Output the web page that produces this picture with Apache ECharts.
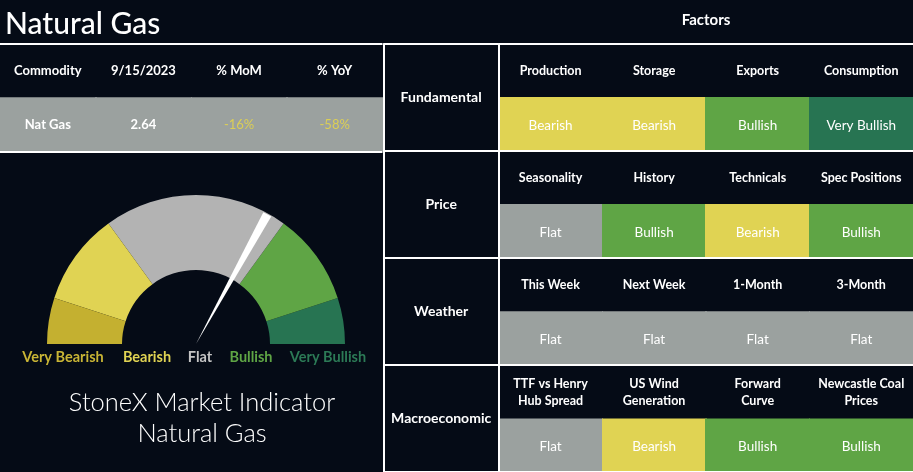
<!DOCTYPE html>
<html><head><meta charset="utf-8">
<script src="https://cdn.jsdelivr.net/npm/echarts@6/dist/echarts.min.js"></script>
<style>html,body{margin:0;padding:0;background:#050b16}#c{width:913px;height:472px}</style>
</head><body><div id="c"></div>
<script>
// ---- data ----
const commodityHeaders = ['Commodity', '9/15/2023', '% MoM', '% YoY'];
const commodityRow = ['Nat Gas', '2.64', '-16%', '-58%'];
const commodityTone = ['neutral', 'neutral', 'Bearish', 'Bearish'];
const groups = ['Fundamental', 'Price', 'Weather', 'Macroeconomic'];
const factorColumns = ['c1', 'c2', 'c3', 'c4'];
const factorNames = [
  ['Production', 'Storage', 'Exports', 'Consumption'],
  ['Seasonality', 'History', 'Technicals', 'Spec Positions'],
  ['This Week', 'Next Week', '1-Month', '3-Month'],
  ['TTF vs Henry\nHub Spread', 'US Wind\nGeneration', 'Forward\nCurve', 'Newcastle Coal\nPrices']
];
const factorRatings = [
  ['Bearish', 'Bearish', 'Bullish', 'Very Bullish'],
  ['Flat', 'Bullish', 'Bearish', 'Bullish'],
  ['Flat', 'Flat', 'Flat', 'Flat'],
  ['Flat', 'Bearish', 'Bullish', 'Bullish']
];
const ratingLevels = ['Very Bearish', 'Bearish', 'Flat', 'Bullish', 'Very Bullish'];
const gaugeBandEnds = [0.1, 0.3, 0.7, 0.9, 1.0];
const indicatorValue = 66;

// ---- styles ----
const BG = '#050b16';
const cellColor = {'Very Bearish': '#c4b030', 'Bearish': '#e0d353', 'Flat': '#9ba19f', 'Bullish': '#5fa545', 'Very Bullish': '#277452'};
const gaugeColor = {'Very Bearish': '#c4b030', 'Bearish': '#e0d353', 'Flat': '#b3b3b3', 'Bullish': '#5fa545', 'Very Bullish': '#277452'};
const labelColor = {'Very Bearish': '#c9b535', 'Bearish': '#e0d353', 'Flat': '#c4c4c4', 'Bullish': '#5fa545', 'Very Bullish': '#2c7a56'};
const FONT = 'Lato, "Noto Sans", sans-serif';
const LINE = {show: true, interval: 0, lineStyle: {color: '#ffffff', width: 2}};

function catAxis(gridIndex, data, inverse, split) {
  return {type: 'category', gridIndex, data, inverse: !!inverse, z: 5,
    axisLine: {show: false}, axisTick: {show: false}, axisLabel: {show: false},
    splitLine: split ? LINE : {show: false}};
}

function renderCommodity(params, api) {
  const j = api.value(0);
  const c = api.coord([j, 0]);
  const s = api.size([1, 1]);
  const top = c[1] - s[1] / 2, mid = c[1];
  const tone = commodityTone[j];
  return {type: 'group', children: [
    {type: 'rect', shape: {x: Math.floor(c[0] - s[0] / 2), y: mid, width: Math.ceil(s[0]) + 1, height: s[1] / 2}, style: {fill: cellColor['Flat']}},
    {type: 'text', x: c[0], y: (top + mid) / 2 + 0.5, style: {text: commodityHeaders[j], fill: '#fff', font: 'bold 13px ' + FONT, align: 'center', verticalAlign: 'middle'}},
    {type: 'text', x: c[0], y: mid + s[1] / 4 + 1, style: {text: commodityRow[j], fill: tone === 'Bearish' ? '#dccf55' : '#fff', font: (tone === 'Bearish' ? '' : 'bold ') + '13px ' + FONT, align: 'center', verticalAlign: 'middle'}}
  ]};
}

function renderGroup(params, api) {
  const g = api.value(1);
  const c = api.coord([0, g]);
  return {type: 'text', x: c[0], y: c[1] + 0.5, style: {text: groups[g], fill: '#fff', font: 'bold 14px ' + FONT, align: 'center', verticalAlign: 'middle'}};
}

function renderFactor(params, api) {
  const j = api.value(0), g = api.value(1);
  const c = api.coord([j, g]);
  const s = api.size([1, 1]);
  const top = c[1] - s[1] / 2, mid = c[1];
  const rating = factorRatings[g][j];
  return {type: 'group', children: [
    {type: 'rect', shape: {x: Math.floor(c[0] - s[0] / 2), y: mid, width: Math.ceil(s[0]) + 1, height: s[1] / 2}, style: {fill: cellColor[rating]}},
    {type: 'text', x: c[0], y: (top + mid) / 2 + 1, style: {text: factorNames[g][j], fill: '#fff', font: 'bold 12.5px ' + FONT, align: 'center', verticalAlign: 'middle', lineHeight: 17}},
    {type: 'text', x: c[0], y: mid + s[1] / 4 + 1.5, style: {text: rating, fill: '#fff', font: '13.5px ' + FONT, align: 'center', verticalAlign: 'middle'}}
  ]};
}

const factorData = [];
groups.forEach((g, gi) => factorColumns.forEach((col, ci) => factorData.push([ci, gi])));

const gaugeLabelX = [63, 147, 200, 251, 328];

const chart = echarts.init(document.getElementById('c'), null, {renderer: 'canvas'});
chart.setOption({
  backgroundColor: BG,
  animation: false,
  title: [{text: 'Natural Gas', left: 0, top: 4, textStyle: {color: '#fff', fontFamily: FONT, fontWeight: 500, fontSize: 30}}],
  grid: [
    {left: 0, top: 43.3, width: 382.5, height: 108},
    {left: 383.5, top: 43.3, width: 115.3, height: 432},
    {left: 498.8, top: 43.3, width: 414.2, height: 432}
  ],
  xAxis: [catAxis(0, commodityHeaders, false, false), catAxis(1, ['group'], false, true), catAxis(2, factorColumns, false, false)],
  yAxis: [catAxis(0, ['row'], true, true), catAxis(1, groups, true, true), catAxis(2, groups, true, true)],
  series: [
    {type: 'custom', xAxisIndex: 0, yAxisIndex: 0, renderItem: renderCommodity, data: commodityHeaders.map((h, i) => [i, 0]), silent: true},
    {type: 'custom', xAxisIndex: 1, yAxisIndex: 1, renderItem: renderGroup, data: groups.map((g, i) => [0, i]), silent: true},
    {type: 'custom', xAxisIndex: 2, yAxisIndex: 2, renderItem: renderFactor, data: factorData, silent: true},
    {
      type: 'gauge', center: [196, 344], radius: 149, startAngle: 180, endAngle: 0, min: 0, max: 100,
      axisLine: {lineStyle: {width: 75, color: gaugeBandEnds.map((b, i) => [b, gaugeColor[ratingLevels[i]]])}},
      splitLine: {show: false}, axisTick: {show: false}, axisLabel: {show: false},
      pointer: {icon: 'path://M0,0 L10,0 L5,100 Z', length: 148, width: 9, offsetCenter: [0, 0], keepAspect: false, itemStyle: {color: '#ffffff'}},
      anchor: {show: false}, title: {show: false}, detail: {show: false},
      data: [{value: indicatorValue}]
    }
  ],
  graphic: [
    {type: 'text', x: 706, y: 20.5, style: {text: 'Factors', fill: '#fff', font: 'bold 15px ' + FONT, align: 'center', verticalAlign: 'middle'}},
    ...ratingLevels.map((r, i) => ({type: 'text', x: gaugeLabelX[i], y: 357, style: {text: r, fill: labelColor[r], font: 'bold 14.5px ' + FONT, align: 'center', verticalAlign: 'middle'}})),
    {type: 'text', x: 202, y: 403, style: {text: 'StoneX Market Indicator', fill: '#fff', font: '300 25.5px ' + FONT, align: 'center', verticalAlign: 'middle'}},
    {type: 'text', x: 202, y: 434, style: {text: 'Natural Gas', fill: '#fff', font: '300 25.5px ' + FONT, align: 'center', verticalAlign: 'middle'}}
  ]
});
</script></body></html>
